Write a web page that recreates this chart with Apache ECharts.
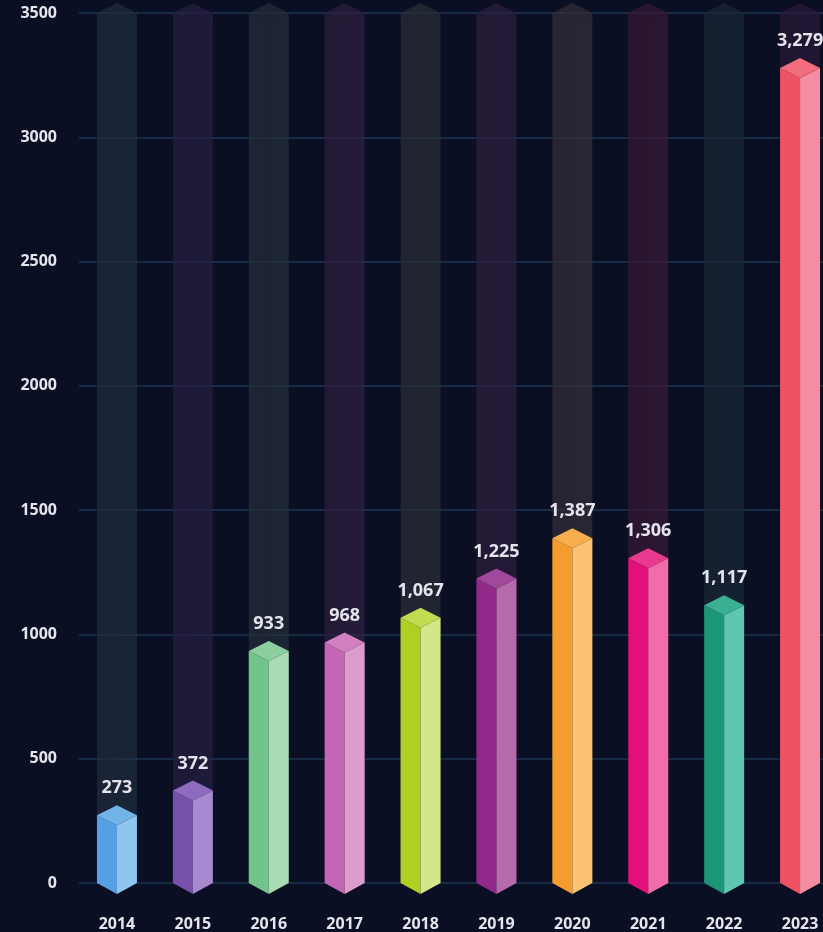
<!DOCTYPE html>
<html>
<head>
<meta charset="utf-8">
<script src="https://cdn.jsdelivr.net/npm/echarts@6/dist/echarts.min.js"></script>
<style>
html,body{margin:0;padding:0;background:#0a0f24;overflow:hidden;}
#c{width:842px;height:932px;}
</style>
</head>
<body>
<div id="c"></div>
<script>
const years = ['2014','2015','2016','2017','2018','2019','2020','2021','2022','2023'];
const values = [273, 372, 933, 968, 1067, 1225, 1387, 1306, 1117, 3279];
const yTicks = [0, 500, 1000, 1500, 2000, 2500, 3000, 3500];

const leftColors  = ['#55a0e2','#7650ab','#72c48b','#c466b4','#b0cf22','#92288a','#f59c2e','#e4107a','#1b9676','#ef5264'];
const rightColors = ['#8fc5ef','#a68ad0','#a8dcb3','#dc9dcd','#d3e78a','#b56aab','#fbc274','#f06caa','#5fc6b2','#f48ca2'];
const topColors   = ['#72b3e8','#8d6cc0','#8ccf9e','#d07fc1','#c2dc52','#a1489a','#f8ae4c','#ea3a90','#3aaf92','#f26e7e'];
const shadowColors = ['#1a2437','#1e1b39','#1d2534','#251a37','#212531','#231a37','#292533','#2b1732','#152132','#201633'];
const BG = '#0a0f24';

function overlay(target, alpha){
  const t = parseInt(target.slice(1),16), b = parseInt(BG.slice(1),16);
  const ch = (s)=>{
    const tv=(t>>s)&255, bv=(b>>s)&255;
    return Math.max(0, Math.min(255, Math.round(bv + (tv-bv)/alpha)));
  };
  return 'rgba(' + ch(16) + ',' + ch(8) + ',' + ch(0) + ',' + alpha + ')';
}

const chart = echarts.init(document.getElementById('c'), null, {renderer:'canvas'});
const HALF = 20, DEPTH = 10;

function prism(params, api, isBg){
  const i = params.dataIndex;
  const v = api.value(1);
  const t = api.coord([api.value(0), v]);
  const b = api.coord([api.value(0), 0]);
  const cx = t[0], yt = t[1], yb = b[1];
  let lc, rc, tc;
  if (isBg) {
    lc = overlay(shadowColors[i], 0.7); rc = overlay(shadowColors[i], 0.6); tc = overlay(shadowColors[i], 0.7);
  } else {
    lc = leftColors[i]; rc = rightColors[i]; tc = topColors[i];
  }
  const children = [
    {type:'polygon', shape:{points:[[cx-HALF,yt],[cx,yt+DEPTH],[cx,yb+DEPTH+1],[cx-HALF,yb]]}, style:{fill:lc}},
    {type:'polygon', shape:{points:[[cx,yt+DEPTH],[cx+HALF,yt],[cx+HALF,yb],[cx,yb+DEPTH+1]]}, style:{fill:rc}},
    {type:'polygon', shape:{points:[[cx-HALF,yt],[cx,yt-DEPTH],[cx+HALF,yt],[cx,yt+DEPTH]]}, style:{fill:tc}}
  ];
  if(!isBg){
    children.push({type:'text', style:{
      text: v.toLocaleString('en-US'), x: cx, y: yt-DEPTH-8,
      align:'center', verticalAlign:'bottom',
      fill:'#e4e4ec', font:'bold 18px "Open Sans"'
    }});
  }
  return {type:'group', children};
}

chart.setOption({
  backgroundColor:BG,
  animation:false,
  grid:{left:79, top:13, width:759, bottom:48, containLabel:false},
  xAxis:{
    type:'category', data:years,
    axisLine:{show:false}, axisTick:{show:false},
    axisLabel:{color:'#e6e6ee', fontWeight:'bold', fontSize:16, fontFamily:'Open Sans', margin:33}
  },
  yAxis:{
    type:'value', min:yTicks[0], max:yTicks[yTicks.length-1], interval:500,
    axisLine:{show:false}, axisTick:{show:false},
    axisLabel:{color:'#e6e6ee', fontWeight:'bold', fontSize:16, fontFamily:'Open Sans', margin:22,
      formatter:(v)=>String(v)},
    splitLine:{lineStyle:{color:'#1c3452', width:1.5}}
  },
  series:[
    {type:'custom', data:years.map((y,i)=>[i, yTicks[yTicks.length-1]]), encode:{x:0,y:1},
     renderItem:(p,a)=>prism(p,a,true), z:1, clip:false},
    {type:'custom', data:values.map((v,i)=>[i, v]), encode:{x:0,y:1},
     renderItem:(p,a)=>prism(p,a,false), z:2, clip:false}
  ]
});
</script>
</body>
</html>
